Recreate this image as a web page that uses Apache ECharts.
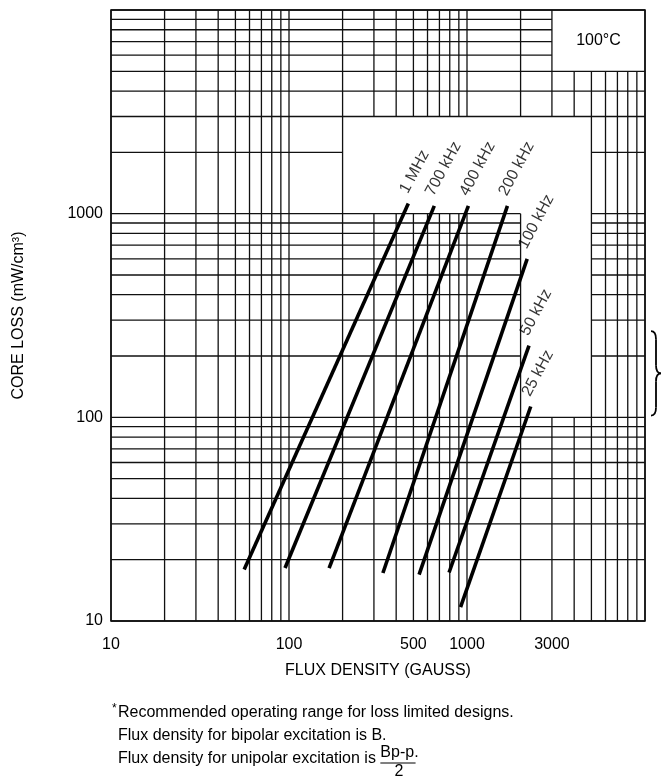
<!DOCTYPE html>
<html lang="en">
<head>
<meta charset="UTF-8">
<title>Core loss vs flux density</title>
<script src="https://cdn.jsdelivr.net/npm/echarts@6/dist/echarts.min.js"></script>
<style>
    html, body { margin: 0; padding: 0; background: #fff; }
    #main { width: 663px; height: 779px; }
</style>
</head>
<body>
<div id="main"></div>
<script>
    // lines of the log-log paper (gauss on x, mW/cm3 on y)
    var gaussLines = [10, 20, 30, 40, 50, 60, 70, 80, 90,
        100, 200, 300, 400, 500, 600, 700, 800, 900,
        1000, 2000, 3000, 4000, 5000, 6000, 7000, 8000, 9000, 10000];
    var lossLines = [10, 20, 30, 40, 50, 60, 70, 80, 90,
        100, 200, 300, 400, 500, 600, 700, 800, 900,
        1000, 2000, 3000, 4000, 5000, 6000, 7000, 8000, 9000, 10000];
    // parts of the paper left blank: [gauss from, loss from, gauss to, loss to]
    var blankAreas = [
        [200, 1000, 5000, 3000],
        [2000, 100, 5000, 3000],
        [3000, 5000, 10000, 10000]
    ];

    // one straight line per frequency
    var freqNames = ['1 MHz', '700 kHz', '400 kHz', '200 kHz', '100 kHz', '50 kHz', '25 kHz'];
    var fluxLow = [56, 95, 168, 337, 538, 793, 920];
    var lossLow = [17.9, 18.2, 18.2, 17.2, 16.9, 17.3, 11.7];
    var fluxHigh = [468, 655, 1018, 1687, 2178, 2230, 2280];
    var lossHigh = [1122, 1092, 1092, 1092, 600, 225, 113];

    var xLabels = [10, 100, 500, 1000, 3000];
    var yLabels = [10, 100, 1000];
    var rangeLoss = [102, 265];   // recommended range (brace on the right)

    var FONT = '"Liberation Sans", Arial, sans-serif';

    // cut one grid line where it crosses a blank area
    function cutLine(pos, vertical) {
        var pieces = [[10, 10000]];
        blankAreas.forEach(function (r) {
            var inside = vertical ? (r[0] < pos && pos < r[2]) : (r[1] < pos && pos < r[3]);
            if (!inside) return;
            var c0 = vertical ? r[1] : r[0], c1 = vertical ? r[3] : r[2];
            var out = [];
            pieces.forEach(function (p) {
                if (c1 <= p[0] || c0 >= p[1]) { out.push(p); return; }
                if (c0 > p[0]) out.push([p[0], c0]);
                if (c1 < p[1]) out.push([c1, p[1]]);
            });
            pieces = out;
        });
        return pieces;
    }

    var segs = [];
    gaussLines.forEach(function (g) {
        cutLine(g, true).forEach(function (p) { segs.push([g, p[0], g, p[1]]); });
    });
    lossLines.forEach(function (l) {
        cutLine(l, false).forEach(function (p) { segs.push([p[0], l, p[1], l]); });
    });

    var myChart = echarts.init(document.getElementById('main'));

    var series = [{
        type: 'custom',
        name: 'paper',
        silent: true,
        data: segs,
        encode: {x: [0, 2], y: [1, 3]},
        renderItem: function (params, api) {
            var a = api.coord([api.value(0), api.value(1)]);
            var b = api.coord([api.value(2), api.value(3)]);
            return {
                type: 'line',
                shape: {x1: a[0], y1: a[1], x2: b[0], y2: b[1]},
                style: {stroke: '#111', lineWidth: 1.3}
            };
        }
    }];

    freqNames.forEach(function (name, i) {
        series.push({
            type: 'line',
            name: name,
            silent: true,
            z: 5,
            showSymbol: false,
            data: [[fluxLow[i], lossLow[i]], [fluxHigh[i], lossHigh[i]]],
            lineStyle: {color: '#000', width: 3.6, cap: 'butt'}
        });
    });

    // frequency names at the top end of each line, plus the temperature box
    series.push({
        type: 'scatter',
        name: 'labels',
        silent: true,
        z: 6,
        symbolSize: 1,
        itemStyle: {color: 'rgba(0,0,0,0)'},
        data: freqNames.map(function (n, i) {
            return {name: n, value: [fluxHigh[i], lossHigh[i]]};
        }),
        label: {
            show: true,
            formatter: '{b}',
            position: [3, -7],
            align: 'left',
            verticalAlign: 'bottom',
            rotate: 62,
            fontSize: 16,
            fontFamily: FONT,
            color: '#000'
        },
        markArea: {
            silent: true,
            itemStyle: {color: 'rgba(0,0,0,0)'},
            label: {show: true, position: 'inside', fontSize: 16, fontFamily: FONT, color: '#000'},
            data: [[{name: '100°C', coord: [3000, 5000]}, {coord: [10000, 10000]}]]
        }
    });

    function plain(v) { return String(v); }

    var option = {
        animation: false,
        backgroundColor: '#fff',
        grid: {
            left: 111, right: 18, top: 10, bottom: 158,
            show: true, borderColor: '#000', borderWidth: 1.5
        },
        xAxis: {
            type: 'log', logBase: 10, min: 10, max: 10000,
            name: 'FLUX DENSITY (GAUSS)',
            nameLocation: 'middle', nameGap: 42,
            nameTextStyle: {fontSize: 16, fontFamily: FONT, color: '#000'},
            axisLine: {show: false},
            axisTick: {show: false},
            splitLine: {show: false},
            axisLabel: {customValues: xLabels, formatter: plain, fontSize: 16, fontFamily: FONT, color: '#000', margin: 16}
        },
        yAxis: {
            type: 'log', logBase: 10, min: 10, max: 10000,
            name: 'CORE LOSS (mW/cm³)',
            nameLocation: 'middle', nameGap: 84,
            nameTextStyle: {fontSize: 16, fontFamily: FONT, color: '#000'},
            axisLine: {show: false},
            axisTick: {show: false},
            splitLine: {show: false},
            axisLabel: {customValues: yLabels, formatter: plain, fontSize: 16, fontFamily: FONT, color: '#000', margin: 8}
        },
        series: series
    };
    myChart.setOption(option);

    // brace for the recommended range, and the footnote
    var pTop = myChart.convertToPixel({gridIndex: 0}, [10000, rangeLoss[1]]);
    var pBot = myChart.convertToPixel({gridIndex: 0}, [10000, rangeLoss[0]]);
    var bx = pTop[0] + 6, bt = pTop[1], bb = pBot[1], bm = (bt + bb) / 2, bw = 10, bh = 8;
    var braceStyle = {fill: 'none', stroke: '#000', lineWidth: 1.8};

    var ctx = document.createElement('canvas').getContext('2d');
    ctx.font = '16px ' + FONT;
    var lead = 'Flux density for unipolar excitation is ';
    var leadW = ctx.measureText(lead).width;
    var fracW = ctx.measureText('Bp-p.').width;
    var noteStyle = {fontSize: 16, fontFamily: FONT, fill: '#000'};

    myChart.setOption({
        graphic: [
            {type: 'bezierCurve', shape: {x1: bx, y1: bt, x2: bx + bw / 2, y2: bt + bh, cpx1: bx + bw / 2, cpy1: bt}, style: braceStyle},
            {type: 'line', shape: {x1: bx + bw / 2, y1: bt + bh, x2: bx + bw / 2, y2: bm - bh}, style: braceStyle},
            {type: 'bezierCurve', shape: {x1: bx + bw / 2, y1: bm - bh, x2: bx + bw, y2: bm, cpx1: bx + bw / 2, cpy1: bm}, style: braceStyle},
            {type: 'bezierCurve', shape: {x1: bx + bw, y1: bm, x2: bx + bw / 2, y2: bm + bh, cpx1: bx + bw / 2, cpy1: bm}, style: braceStyle},
            {type: 'line', shape: {x1: bx + bw / 2, y1: bm + bh, x2: bx + bw / 2, y2: bb - bh}, style: braceStyle},
            {type: 'bezierCurve', shape: {x1: bx + bw / 2, y1: bb - bh, x2: bx, y2: bb, cpx1: bx + bw / 2, cpy1: bb}, style: braceStyle},
            {type: 'text', left: 112, top: 703, style: {text: '*', fontSize: 12, fontFamily: FONT, fill: '#000'}},
            {type: 'text', left: 118, top: 705, style: Object.assign({text: 'Recommended operating range for loss limited designs.'}, noteStyle)},
            {type: 'text', left: 118, top: 728, style: Object.assign({text: 'Flux density for bipolar excitation is B.'}, noteStyle)},
            {type: 'text', left: 118, top: 751, style: Object.assign({text: lead}, noteStyle)},
            {type: 'text', left: 118 + leadW, top: 745, style: Object.assign({text: 'Bp-p.'}, noteStyle)},
            {type: 'line', shape: {x1: 118 + leadW, y1: 763, x2: 118 + leadW + fracW - 3, y2: 763}, style: {stroke: '#000', lineWidth: 1}},
            {type: 'text', left: 118 + leadW + fracW / 2 - 5, top: 764, style: Object.assign({text: '2'}, noteStyle)}
        ]
    });
</script>
</body>
</html>
